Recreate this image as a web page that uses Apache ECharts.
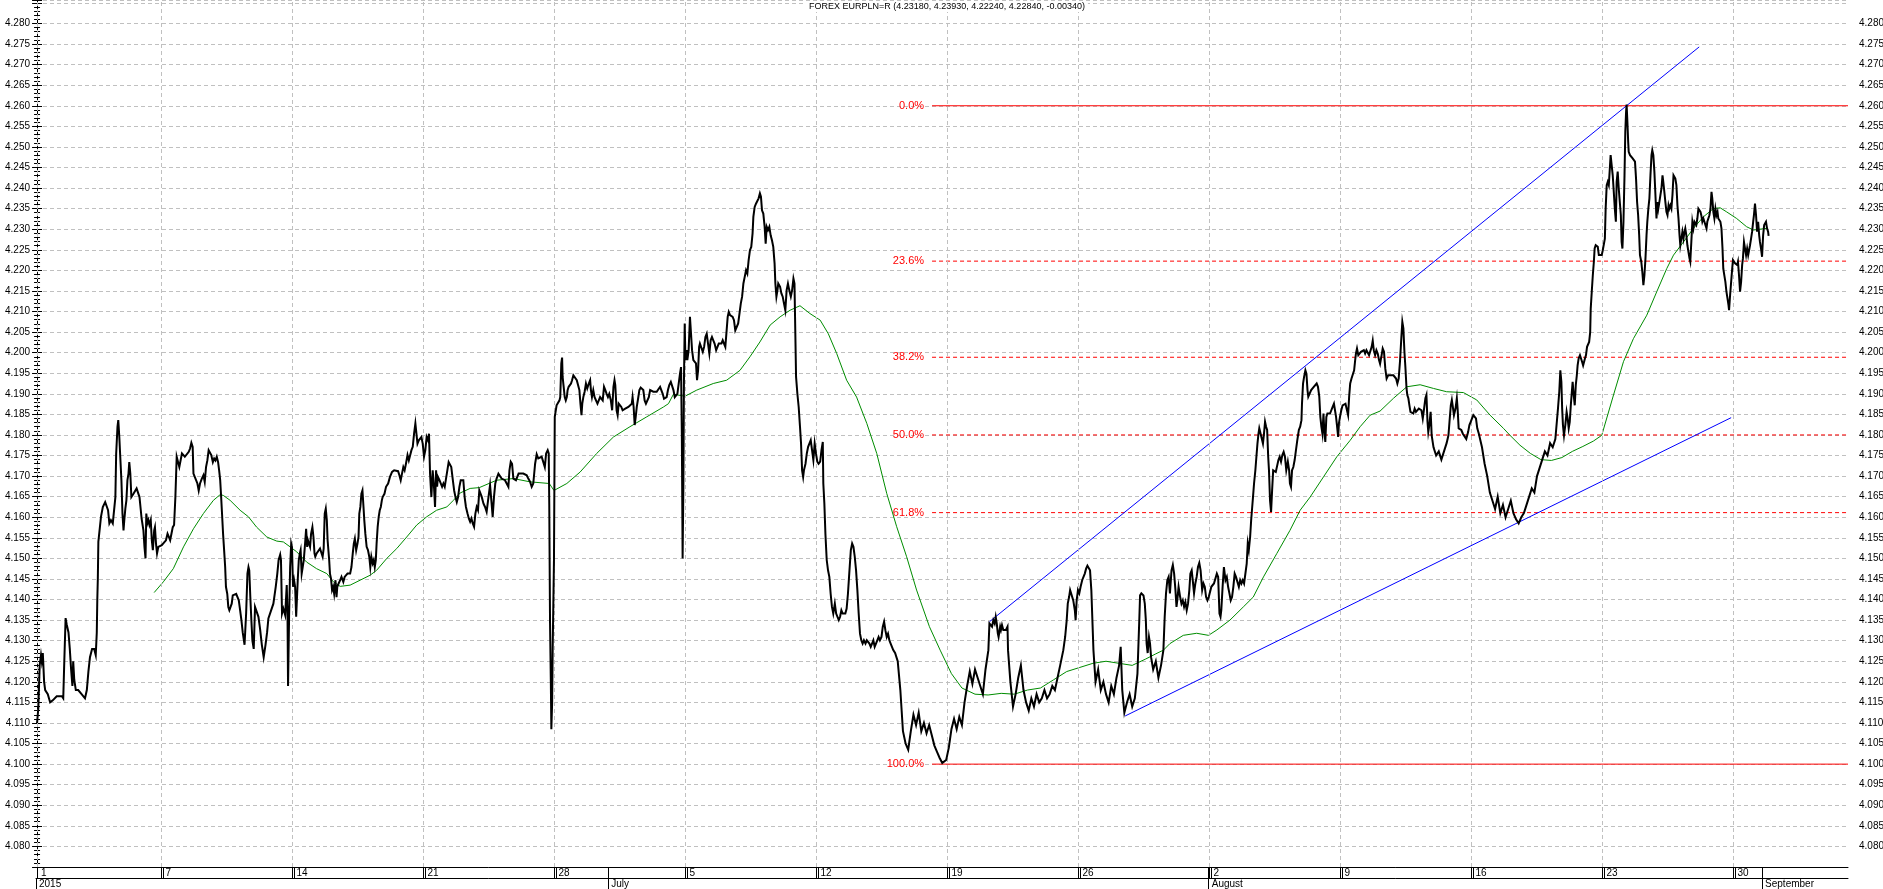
<!DOCTYPE html>
<html>
<head>
<meta charset="utf-8">
<title>EURPLN</title>
<script src="https://cdn.jsdelivr.net/npm/echarts@6/dist/echarts.min.js"></script>
<style>
  html, body { margin: 0; padding: 0; background: #fff; }
  #chart { width: 1883px; height: 889px; }
</style>
</head>
<body>
<div id="chart"></div>
<script>
// x unit: trading days from the 1 June tick (one week = 5 days)
const weekTicks = [0, 4.75, 9.75, 14.75, 19.75, 24.75, 29.75, 34.75, 39.75, 44.75, 49.75, 54.75, 59.75, 64.75];
const weekLabels = ['1', '7', '14', '21', '28', '5', '12', '19', '26', '2', '9', '16', '23', '30'];
const monthTicks = [-0.04, 21.8, 44.72, 65.84];
const monthLabels = ['2015', 'July', 'August', 'September'];

const titleText = 'FOREX EURPLN=R (4.23180, 4.23930, 4.22240, 4.22840, -0.00340)';

// EURPLN close, [day, price]
const price = [
  [0.00,4.1100],[0.05,4.1137],[0.10,4.1240],[0.15,4.1265],[0.18,4.1250],[0.22,4.1270],[0.27,4.1200],[0.31,4.1180],[0.36,4.1180],[0.41,4.1170],[0.50,4.1150],[0.60,4.1155],[0.75,4.1165],[0.85,4.1165],[0.95,4.1165],[1.00,4.1160],[1.04,4.1250],[1.09,4.1355],[1.13,4.1340],[1.20,4.1320],[1.25,4.1280],[1.30,4.1230],[1.35,4.1190],[1.38,4.1250],[1.42,4.1205],[1.48,4.1180],[1.57,4.1180],[1.70,4.1170],[1.83,4.1160],[1.90,4.1180],[1.96,4.1225],[2.02,4.1260],[2.10,4.1280],[2.18,4.1280],[2.24,4.1265],[2.28,4.1320],[2.30,4.1400],
  [2.32,4.1451],[2.34,4.1540],[2.40,4.1544],[2.44,4.1601],[2.51,4.1625],[2.60,4.1637],[2.66,4.1641],[2.71,4.1617],[2.76,4.1585],[2.82,4.1593],[2.89,4.1585],[2.96,4.1581],[2.99,4.1649],[3.02,4.1755],[3.07,4.1820],[3.10,4.1836],[3.14,4.1795],[3.17,4.1755],[3.22,4.1690],[3.26,4.1609],[3.30,4.1568],[3.33,4.1593],[3.37,4.1621],[3.41,4.1641],[3.45,4.1690],[3.49,4.1706],[3.52,4.1734],[3.56,4.1706],[3.60,4.1649],[3.68,4.1657],[3.74,4.1661],[3.80,4.1670],[3.87,4.1674],[3.91,4.1649],[3.96,4.1617],[3.99,4.1597],[4.06,4.1568],[4.10,4.1528],[4.14,4.1500],[4.17,4.1609],[4.21,4.1585],[4.25,4.1593],[4.29,4.1581],[4.34,4.1593],[4.38,4.1544],[4.42,4.1520],[4.47,4.1568],[4.50,4.1576],[4.54,4.1536],[4.58,4.1512],[4.63,4.1528],[4.70,4.1532],[4.76,4.1532],[4.82,4.1536],[4.92,4.1544],[4.98,4.1560],[5.03,4.1552],[5.08,4.1544],[5.13,4.1560],[5.18,4.1576],[5.23,4.1581],[5.28,4.1649],[5.33,4.1747],[5.37,4.1743],[5.43,4.1722],[5.48,4.1726],[5.53,4.1755],[5.59,4.1759],[5.64,4.1747],[5.71,4.1751],[5.79,4.1759],[5.84,4.1767],[5.89,4.1781],[5.94,4.1771],[5.97,4.1706],[6.02,4.1698],[6.07,4.1698],[6.12,4.1682],[6.17,4.1665],[6.22,4.1682],[6.29,4.1694],[6.35,4.1702],[6.40,4.1686],[6.45,4.1722],[6.50,4.1738],[6.55,4.1763],[6.60,4.1767],[6.65,4.1751],[6.71,4.1734],[6.76,4.1743],[6.81,4.1738],[6.86,4.1747],[6.91,4.1734],[6.95,4.1714],[6.99,4.1690],[7.02,4.1657],[7.06,4.1609],[7.10,4.1560],[7.14,4.1520],[7.18,4.1479],[7.21,4.1431],[7.26,4.1414],[7.30,4.1382],[7.34,4.1374],[7.39,4.1374],[7.43,4.1390],[7.47,4.1410],[7.52,4.1414],[7.60,4.1414],[7.65,4.1410],[7.70,4.1398],[7.75,4.1374],[7.80,4.1350],
  [7.85,4.1320],[7.92,4.1290],[7.98,4.1366],[8.03,4.1463],[8.07,4.1479],[8.10,4.1471],[8.14,4.1406],[8.18,4.1350],[8.22,4.1300],[8.27,4.1280],[8.32,4.1382],[8.38,4.1378],[8.45,4.1358],[8.51,4.1330],[8.58,4.1290],[8.65,4.1260],[8.72,4.1290],[8.78,4.1320],[8.83,4.1354],[8.89,4.1354],[9.02,4.1390],[9.11,4.1431],[9.17,4.1463],[9.22,4.1496],[9.28,4.1509],[9.31,4.1496],[9.35,4.1366],[9.40,4.1378],[9.47,4.1362],[9.53,4.1435],[9.56,4.1360],[9.58,4.1190],[9.62,4.1358],[9.66,4.1479],[9.70,4.1536],[9.73,4.1528],[9.77,4.1431],[9.81,4.1447],[9.85,4.1431],[9.89,4.1358],[9.91,4.1354],[9.95,4.1447],[9.99,4.1496],[10.03,4.1512],[10.06,4.1520],[10.10,4.1463],[10.14,4.1479],[10.18,4.1496],[10.23,4.1536],[10.27,4.1572],[10.31,4.1528],[10.34,4.1544],[10.38,4.1536],[10.42,4.1528],[10.46,4.1560],[10.51,4.1576],[10.55,4.1552],[10.59,4.1512],[10.62,4.1504],[10.67,4.1512],[10.74,4.1516],[10.80,4.1524],[10.87,4.1520],[10.90,4.1504],[10.94,4.1524],[10.98,4.1609],[11.02,4.1621],[11.06,4.1593],[11.09,4.1544],[11.15,4.1496],[11.18,4.1463],[11.22,4.1451],[11.26,4.1423],[11.30,4.1431],[11.34,4.1414],[11.39,4.1447],[11.43,4.1406],[11.46,4.1431],[11.51,4.1439],[11.57,4.1447],[11.62,4.1455],[11.65,4.1459],[11.69,4.1443],[11.74,4.1455],[11.79,4.1451],[11.85,4.1463],[11.95,4.1463],[12.00,4.1479],[12.05,4.1512],[12.09,4.1536],[12.13,4.1548],[12.18,4.1520],[12.23,4.1536],[12.27,4.1552],[12.30,4.1609],[12.34,4.1625],[12.38,4.1657],[12.42,4.1665],[12.46,4.1625],[12.49,4.1593],[12.53,4.1560],[12.58,4.1528],[12.63,4.1520],[12.68,4.1504],[12.72,4.1479],[12.76,4.1504],[12.81,4.1488],[12.85,4.1496],[12.89,4.1479],[12.93,4.1496],[12.96,4.1536],[13.00,4.1576],[13.04,4.1601],[13.08,4.1617],[13.12,4.1625],[13.16,4.1641],[13.19,4.1649],[13.26,4.1657],[13.32,4.1674],[13.40,4.1682],[13.47,4.1698],[13.55,4.1710],[13.63,4.1714],[13.70,4.1710],[13.78,4.1712],[13.83,4.1702],[13.88,4.1690],[13.93,4.1706],[13.98,4.1722],[14.03,4.1714],[14.08,4.1730],[14.14,4.1751],[14.19,4.1738],[14.24,4.1734],[14.29,4.1763],[14.34,4.1771],[14.39,4.1803],[14.44,4.1828],[14.48,4.1832],[14.52,4.1779],[14.57,4.1787],[14.62,4.1791],[14.67,4.1795],[14.72,4.1779],[14.77,4.1747],[14.82,4.1763],[14.87,4.1795],[14.92,4.1787],[14.96,4.1803],[15.00,4.1706],[15.05,4.1649],[15.10,4.1714],[15.15,4.1674],[15.19,4.1625],[15.23,4.1714],[15.27,4.1674],[15.30,4.1698],[15.36,4.1690],[15.41,4.1686],[15.46,4.1674],[15.51,4.1682],[15.56,4.1674],[15.61,4.1678],[15.66,4.1714],[15.71,4.1734],[15.76,4.1738],[15.81,4.1722],[15.87,4.1690],[15.92,4.1665],[15.97,4.1649],[16.02,4.1637],[16.07,4.1649],[16.12,4.1674],[16.17,4.1690],[16.22,4.1694],[16.27,4.1690],[16.32,4.1649],[16.37,4.1625],[16.43,4.1609],[16.48,4.1597],[16.53,4.1589],[16.58,4.1597],[16.63,4.1585],[16.68,4.1577],[16.73,4.1609],[16.78,4.1625],[16.83,4.1617],[16.88,4.1665],
  [16.97,4.1650],[17.04,4.1633],[17.10,4.1625],[17.16,4.1613],[17.23,4.1649],[17.29,4.1678],[17.35,4.1633],[17.39,4.1601],[17.44,4.1649],[17.49,4.1682],[17.54,4.1694],[17.61,4.1706],[17.67,4.1702],[17.73,4.1694],[17.86,4.1690],[17.93,4.1686],[17.99,4.1674],[18.03,4.1714],[18.08,4.1735],[18.13,4.1730],[18.18,4.1694],[18.23,4.1698],[18.28,4.1690],[18.33,4.1690],[18.38,4.1706],[18.43,4.1702],[18.56,4.1706],[18.69,4.1702],[18.75,4.1694],[18.82,4.1686],[18.88,4.1674],[18.94,4.1682],[19.01,4.1730],[19.07,4.1753],[19.13,4.1743],[19.26,4.1747],[19.33,4.1751],[19.38,4.1722],[19.43,4.1755],[19.49,4.1763],[19.53,4.1755],[19.55,4.1633],[19.58,4.1342],[19.61,4.1200],[19.63,4.1085],[19.66,4.1150],[19.68,4.1277],[19.73,4.1496],[19.76,4.1844],[19.78,4.1852],[19.83,4.1872],[19.90,4.1868],[19.94,4.1884],[19.97,4.1892],[20.01,4.1974],[20.04,4.1988],[20.06,4.1941],[20.10,4.1917],[20.14,4.1892],[20.18,4.1884],[20.22,4.1892],[20.25,4.1909],[20.29,4.1917],[20.34,4.1917],[20.38,4.1925],[20.42,4.1933],[20.47,4.1945],[20.53,4.1941],[20.60,4.1933],[20.66,4.1933],[20.70,4.1909],[20.74,4.1876],[20.78,4.1848],[20.81,4.1876],[20.85,4.1892],[20.90,4.1905],[20.95,4.1925],[21.00,4.1913],[21.06,4.1925],[21.11,4.1933],[21.14,4.1909],[21.18,4.1892],[21.23,4.1909],[21.28,4.1892],[21.34,4.1892],[21.39,4.1876],[21.44,4.1884],[21.49,4.1892],[21.54,4.1888],[21.59,4.1884],[21.64,4.1917],[21.69,4.1909],[21.74,4.1900],[21.79,4.1892],[21.84,4.1900],[21.90,4.1884],[21.95,4.1860],[22.00,4.1917],[22.04,4.1933],[22.07,4.1921],[22.12,4.1860],[22.16,4.1848],[22.20,4.1876],[22.25,4.1876],[22.30,4.1868],[22.35,4.1860],[22.45,4.1864],[22.51,4.1868],[22.57,4.1868],[22.63,4.1864],[22.70,4.1876],[22.73,4.1892],[22.77,4.1868],[22.81,4.1824],[22.85,4.1844],[22.89,4.1868],[22.94,4.1888],[22.99,4.1909],[23.04,4.1915],[23.09,4.1913],[23.14,4.1909],[23.19,4.1884],[23.24,4.1876],[23.29,4.1876],[23.35,4.1892],[23.40,4.1909],[23.46,4.1909],[23.52,4.1905],[23.59,4.1909],[23.65,4.1905],[23.71,4.1909],[23.78,4.1917],[23.83,4.1921],[23.88,4.1900],[23.93,4.1888],[23.98,4.1888],[24.03,4.1892],[24.08,4.1909],[24.13,4.1921],[24.19,4.1929],[24.24,4.1933],[24.29,4.1909],[24.34,4.1892],[24.39,4.1892],[24.44,4.1900],[24.49,4.1925],[24.54,4.1949],[24.58,4.1965],[24.61,4.1803],[24.63,4.1601],[24.64,4.1500],[24.67,4.1682],[24.69,4.1925],[24.72,4.2071],[24.74,4.2006],[24.77,4.1982],[24.80,4.2006],[24.82,4.1982],[24.87,4.2006],[24.92,4.2087],[24.96,4.2091],[25.00,4.2006],[25.05,4.1982],[25.10,4.1978],[25.15,4.1974],[25.19,4.1933],[25.23,4.1957],[25.27,4.2014],[25.30,4.2022],[25.36,4.2022],[25.41,4.2002],[25.46,4.2014],[25.51,4.2038],[25.56,4.2046],[25.61,4.2022],[25.66,4.1998],[25.71,4.2030],[25.76,4.2038],[25.81,4.2030],[25.86,4.2022],[25.92,4.2006],[25.97,4.2014],[26.02,4.2022],[26.07,4.2026],[26.12,4.2022],[26.17,4.2030],[26.22,4.2026],[26.27,4.2014],[26.32,4.2054],[26.36,4.2087],[26.40,4.2099],[26.45,4.2091],[26.50,4.2095],[26.55,4.2087],[26.60,4.2079],[26.65,4.2054],[26.70,4.2050],[26.76,4.2071],[26.81,4.2095],[26.86,4.2119],[26.91,4.2136],[26.96,4.2168],[27.01,4.2184],[27.06,4.2200],[27.11,4.2192],[27.16,4.2225],[27.21,4.2249],[27.26,4.2257],[27.31,4.2290],[27.34,4.2330],[27.39,4.2354],[27.44,4.2362],[27.49,4.2362],[27.54,4.2375],[27.59,4.2387],[27.63,4.2379],[27.67,4.2346],[27.72,4.2338],[27.77,4.2306],[27.81,4.2265],[27.85,4.2306],[27.90,4.2298],[27.95,4.2306],[28.00,4.2285],[28.05,4.2273],[28.10,4.2257],[28.15,4.2217],[28.18,4.2168],[28.22,4.2136],[28.26,4.2152],[28.29,4.2168],[28.36,4.2160],[28.41,4.2144],[28.46,4.2136],[28.51,4.2119],[28.56,4.2103],[28.61,4.2152],[28.66,4.2168],[28.71,4.2152],[28.77,4.2136],[28.82,4.2152],[28.87,4.2180],[28.91,4.2168],[28.94,4.2054],[28.97,4.1941],[29.02,4.1900],[29.07,4.1868],[29.12,4.1820],[29.16,4.1779],[29.20,4.1714],[29.24,4.1698],[29.27,4.1714],[29.33,4.1730],[29.38,4.1755],[29.43,4.1771],[29.48,4.1775],[29.53,4.1787],[29.58,4.1763],[29.63,4.1739],[29.68,4.1779],[29.73,4.1755],[29.78,4.1735],[29.83,4.1730],[29.89,4.1735],[29.94,4.1763],[29.99,4.1783],[30.01,4.1682],[30.05,4.1633],[30.09,4.1560],[30.14,4.1496],[30.19,4.1471],[30.24,4.1455],[30.29,4.1414],[30.34,4.1382],[30.39,4.1366],[30.45,4.1390],[30.50,4.1366],[30.55,4.1370],[30.60,4.1350],[30.65,4.1358],[30.70,4.1374],[30.75,4.1366],[30.80,4.1370],[30.85,4.1366],[30.90,4.1378],[30.95,4.1414],[31.00,4.1463],[31.06,4.1520],[31.11,4.1536],[31.16,4.1528],[31.21,4.1504],[31.26,4.1471],[31.31,4.1423],[31.36,4.1366],[31.41,4.1317],[31.46,4.1301],[31.51,4.1293],[31.56,4.1301],[31.62,4.1293],[31.67,4.1301],[31.72,4.1297],[31.77,4.1293],[31.82,4.1285],[31.87,4.1293],[31.92,4.1301],[31.97,4.1285],[32.02,4.1293],[32.07,4.1301],[32.12,4.1309],[32.17,4.1301],[32.23,4.1309],[32.28,4.1334],[32.33,4.1346],[32.38,4.1325],[32.43,4.1309],[32.48,4.1317],[32.53,4.1301],[32.58,4.1293],[32.63,4.1285],[32.68,4.1277],
  [32.75,4.1270],[32.85,4.1250],[32.95,4.1180],[33.05,4.1080],[33.15,4.1050],[33.25,4.1035],[33.35,4.1080],[33.45,4.1120],[33.55,4.1095],[33.65,4.1125],[33.75,4.1080],[33.85,4.1100],[33.95,4.1075],[34.05,4.1095],[34.15,4.1070],[34.25,4.1045],[34.35,4.1030],[34.45,4.1015],[34.55,4.1003],[34.62,4.1000],[34.70,4.1010],[34.80,4.1040],[34.90,4.1085],[35.00,4.1110],[35.10,4.1085],[35.20,4.1115],[35.30,4.1095],[35.40,4.1150],[35.50,4.1190],[35.60,4.1225],[35.70,4.1195],[35.80,4.1230],[35.90,4.1210],[36.00,4.1190],[36.10,4.1170],[36.20,4.1230],[36.31,4.1277],
  [36.35,4.1342],[36.40,4.1342],[36.45,4.1334],[36.50,4.1350],[36.55,4.1342],[36.59,4.1358],[36.63,4.1342],[36.67,4.1318],[36.70,4.1309],[36.76,4.1334],[36.79,4.1326],[36.83,4.1338],[36.88,4.1326],[36.93,4.1330],[36.98,4.1326],[37.04,4.1334],[37.06,4.1277],[37.15,4.1200],[37.25,4.1140],[37.35,4.1170],[37.45,4.1210],[37.55,4.1240],[37.65,4.1180],[37.75,4.1150],[37.85,4.1130],[37.95,4.1160],[38.05,4.1140],[38.15,4.1170],[38.25,4.1150],[38.35,4.1160],[38.45,4.1180],[38.55,4.1160],[38.65,4.1170],[38.75,4.1190],[38.85,4.1180],[38.95,4.1210],[39.05,4.1240],[39.17,4.1277],
  [39.24,4.1309],[39.30,4.1350],[39.34,4.1390],[39.39,4.1406],[39.43,4.1423],[39.49,4.1427],[39.55,4.1398],[39.61,4.1374],[39.64,4.1350],[39.68,4.1398],[39.73,4.1423],[39.78,4.1415],[39.83,4.1431],[39.89,4.1447],[39.94,4.1451],[39.99,4.1463],[40.04,4.1475],[40.09,4.1482],[40.14,4.1479],[40.19,4.1471],[40.24,4.1423],[40.28,4.1350],[40.32,4.1277],[40.40,4.1200],[40.50,4.1230],[40.60,4.1180],[40.70,4.1200],[40.80,4.1170],[40.90,4.1150],[41.00,4.1190],[41.10,4.1170],[41.20,4.1210],[41.30,4.1240],[41.36,4.1285],[41.42,4.1180],[41.50,4.1125],[41.60,4.1150],[41.70,4.1170],[41.80,4.1140],[41.90,4.1160],[42.00,4.1220],
  [42.07,4.1350],[42.10,4.1410],[42.15,4.1415],[42.23,4.1410],[42.28,4.1390],[42.32,4.1350],[42.35,4.1293],[42.39,4.1270],[42.44,4.1309],[42.48,4.1293],[42.52,4.1260],[42.60,4.1230],[42.70,4.1250],[42.80,4.1210],[42.90,4.1240],[42.99,4.1277],
  [43.04,4.1358],[43.09,4.1415],[43.14,4.1447],[43.19,4.1455],[43.24,4.1415],[43.30,4.1471],[43.35,4.1484],[43.40,4.1463],[43.45,4.1423],[43.49,4.1382],[43.52,4.1398],[43.57,4.1431],[43.63,4.1406],[43.68,4.1390],[43.73,4.1398],[43.78,4.1382],[43.83,4.1394],[43.88,4.1374],[43.93,4.1390],[43.98,4.1423],[44.02,4.1463],[44.07,4.1471],[44.11,4.1447],[44.16,4.1415],[44.21,4.1439],[44.26,4.1455],[44.31,4.1479],[44.36,4.1489],[44.41,4.1471],[44.47,4.1423],[44.52,4.1439],[44.57,4.1431],[44.62,4.1406],[44.67,4.1398],[44.72,4.1406],[44.77,4.1410],[44.82,4.1431],[44.87,4.1435],[44.92,4.1439],[44.97,4.1443],[45.03,4.1463],[45.08,4.1455],[45.13,4.1366],[45.17,4.1358],[45.20,4.1374],[45.25,4.1431],[45.30,4.1479],[45.36,4.1447],[45.41,4.1455],[45.46,4.1431],[45.51,4.1415],[45.56,4.1398],[45.61,4.1406],[45.66,4.1431],[45.71,4.1463],[45.76,4.1455],[45.81,4.1455],[45.87,4.1431],[45.92,4.1447],[45.97,4.1439],[46.02,4.1447],[46.07,4.1439],[46.12,4.1443],[46.17,4.1487],[46.21,4.1536],[46.25,4.1520],[46.30,4.1552],[46.34,4.1593],[46.37,4.1617],[46.41,4.1649],[46.45,4.1682],[46.50,4.1714],[46.54,4.1747],[46.58,4.1779],[46.62,4.1803],[46.65,4.1816],[46.70,4.1820],[46.76,4.1787],[46.79,4.1779],[46.83,4.1803],[46.87,4.1832],[46.91,4.1820],[46.95,4.1812],[46.99,4.1747],[47.02,4.1714],[47.06,4.1641],[47.10,4.1613],[47.14,4.1666],[47.18,4.1714],[47.23,4.1714],[47.28,4.1710],[47.33,4.1714],[47.38,4.1739],[47.43,4.1747],[47.48,4.1735],[47.53,4.1751],[47.58,4.1759],[47.63,4.1747],[47.68,4.1714],[47.74,4.1735],[47.79,4.1714],[47.82,4.1682],[47.86,4.1674],[47.90,4.1714],[47.95,4.1722],[48.00,4.1739],[48.05,4.1763],[48.10,4.1787],[48.16,4.1812],[48.21,4.1820],[48.26,4.1836],[48.28,4.1876],[48.32,4.1925],[48.36,4.1941],[48.41,4.1957],[48.45,4.1949],[48.49,4.1909],[48.52,4.1893],[48.58,4.1897],[48.63,4.1909],[48.68,4.1913],[48.73,4.1917],[48.78,4.1921],[48.84,4.1925],[48.89,4.1917],[48.94,4.1893],[48.98,4.1844],[49.02,4.1820],[49.06,4.1803],[49.10,4.1852],[49.13,4.1812],[49.17,4.1783],[49.21,4.1844],[49.25,4.1852],[49.30,4.1856],[49.35,4.1852],[49.40,4.1860],[49.45,4.1868],[49.50,4.1876],[49.54,4.1860],[49.58,4.1844],[49.62,4.1820],[49.66,4.1795],[49.69,4.1828],[49.73,4.1844],[49.78,4.1860],[49.83,4.1872],[49.88,4.1872],[49.94,4.1876],[49.99,4.1876],[50.04,4.1848],[50.08,4.1893],[50.12,4.1925],[50.17,4.1937],[50.22,4.1941],[50.27,4.1957],[50.31,4.1982],[50.34,4.1998],[50.38,4.2010],[50.43,4.1994],[50.48,4.1998],[50.53,4.2002],[50.58,4.2002],[50.64,4.2006],[50.69,4.1998],[50.74,4.2006],[50.79,4.2006],[50.84,4.1994],[50.89,4.1990],[50.94,4.2014],[50.98,4.2029],[51.02,4.2006],[51.07,4.1994],[51.12,4.2006],[51.17,4.1998],[51.22,4.1982],[51.26,4.1973],
  [51.32,4.1994],[51.36,4.2010],[51.41,4.2002],[51.46,4.1961],[51.51,4.1937],[51.57,4.1945],[51.62,4.1941],[51.67,4.1945],[51.72,4.1941],[51.77,4.1945],[51.82,4.1941],[51.87,4.1937],[51.92,4.1925],[51.97,4.1937],[52.02,4.1978],[52.07,4.2034],[52.11,4.2075],[52.15,4.2059],[52.19,4.2002],[52.23,4.1961],[52.27,4.1913],[52.30,4.1897],[52.34,4.1889],[52.38,4.1872],[52.42,4.1856],[52.46,4.1856],[52.49,4.1852],[52.53,4.1852],[52.58,4.1864],[52.63,4.1856],[52.68,4.1856],[52.74,4.1864],[52.79,4.1868],[52.84,4.1860],[52.89,4.1840],[52.94,4.1864],[52.99,4.1889],[53.03,4.1897],[53.07,4.1832],[53.10,4.1807],[53.14,4.1824],[53.19,4.1856],[53.23,4.1799],[53.30,4.1770],[53.40,4.1750],[53.50,4.1760],[53.60,4.1740],[53.70,4.1760],[53.80,4.1780],
  [53.87,4.1799],[53.91,4.1832],[53.96,4.1872],[54.00,4.1885],[54.03,4.1872],[54.08,4.1848],[54.14,4.1864],[54.19,4.1889],[54.22,4.1864],[54.26,4.1816],[54.31,4.1816],[54.36,4.1812],[54.42,4.1803],[54.47,4.1799],[54.55,4.1790],[54.62,4.1807],[54.67,4.1824],[54.72,4.1832],[54.77,4.1840],[54.82,4.1848],[54.87,4.1852],[54.92,4.1840],[54.97,4.1816],[55.03,4.1803],[55.08,4.1799],
  [55.15,4.1770],[55.25,4.1730],[55.35,4.1700],[55.45,4.1660],[55.55,4.1640],[55.65,4.1620],[55.75,4.1650],[55.85,4.1610],[55.95,4.1630],[56.05,4.1600],[56.15,4.1620],[56.25,4.1640],[56.35,4.1610],[56.45,4.1595],[56.55,4.1585],[56.65,4.1600],[56.75,4.1610],[56.85,4.1630],[56.95,4.1650],[57.05,4.1670],[57.15,4.1660],[57.25,4.1700],[57.35,4.1720],[57.45,4.1740],[57.55,4.1760],[57.65,4.1750],[57.75,4.1780],[57.85,4.1770],[57.95,4.1790],
  [58.05,4.1864],[58.10,4.1905],[58.14,4.1957],[58.18,4.1929],[58.21,4.1864],[58.24,4.1824],[58.28,4.1799],[58.33,4.1824],[58.38,4.1856],[58.42,4.1840],[58.46,4.1816],[58.50,4.1832],[58.54,4.1872],[58.58,4.1905],[58.61,4.1929],[58.65,4.1897],[58.69,4.1872],[58.73,4.1921],[58.77,4.1945],[58.80,4.1969],[58.84,4.1986],[58.89,4.1994],[58.93,4.1998],[58.97,4.1978],[59.01,4.1969],[59.05,4.1969],[59.08,4.1986],[59.12,4.1994],[59.16,4.2014],[59.20,4.2018],[59.24,4.2026],[59.28,4.2050],[59.30,4.2107],[59.34,4.2148],[59.38,4.2188],[59.42,4.2221],[59.45,4.2253],[59.49,4.2261],[59.53,4.2265],[59.57,4.2257],[59.61,4.2237],[59.64,4.2237],[59.68,4.2233],[59.72,4.2237],[59.76,4.2249],[59.80,4.2253],[59.84,4.2277],[59.87,4.2350],[59.91,4.2407],[59.95,4.2415],[59.99,4.2407],[60.03,4.2448],[60.06,4.2480],[60.10,4.2480],[60.14,4.2431],[60.18,4.2391],[60.22,4.2350],[60.26,4.2318],[60.29,4.2415],[60.33,4.2440],[60.37,4.2399],[60.41,4.2366],[60.45,4.2334],[60.48,4.2269],[60.51,4.2253],[60.55,4.2318],[60.59,4.2431],[60.62,4.2537],[60.65,4.2585],[60.67,4.2603],[60.70,4.2561],[60.73,4.2512],[60.75,4.2488],[60.80,4.2480],[60.85,4.2480],[60.90,4.2472],[60.95,4.2468],[60.99,4.2464],[61.03,4.2423],[61.07,4.2366],[61.11,4.2334],[61.15,4.2285],[61.18,4.2237],[61.23,4.2221],[61.27,4.2196],[61.31,4.2164],[61.35,4.2188],[61.39,4.2229],[61.43,4.2285],[61.46,4.2318],[61.50,4.2350],[61.54,4.2375],[61.58,4.2431],[61.62,4.2480],[61.65,4.2492],[61.69,4.2480],[61.73,4.2440],[61.77,4.2383],[61.81,4.2326],[61.85,4.2366],[61.88,4.2350],[61.92,4.2366],[61.96,4.2383],[62.00,4.2399],[62.04,4.2431],[62.07,4.2415],[62.11,4.2391],[62.15,4.2366],[62.19,4.2342],[62.23,4.2334],[62.27,4.2358],[62.30,4.2350],[62.34,4.2358],[62.38,4.2350],[62.42,4.2383],[62.46,4.2431],[62.49,4.2435],[62.53,4.2423],[62.57,4.2407],[62.61,4.2358],[62.65,4.2326],[62.69,4.2285],[62.72,4.2261],[62.76,4.2277],[62.80,4.2294],[62.84,4.2277],[62.88,4.2294],[62.91,4.2302],[62.95,4.2285],[62.99,4.2261],[63.03,4.2245],[63.07,4.2229],[63.10,4.2221],[63.14,4.2269],[63.18,4.2318],[63.22,4.2302],[63.26,4.2318],[63.30,4.2318],[63.33,4.2310],[63.37,4.2326],[63.41,4.2350],[63.45,4.2346],[63.49,4.2342],[63.52,4.2334],[63.56,4.2318],[63.60,4.2326],[63.64,4.2318],[63.68,4.2310],[63.72,4.2302],[63.75,4.2318],[63.79,4.2318],[63.83,4.2334],[63.87,4.2350],[63.91,4.2391],[63.94,4.2375],[63.98,4.2342],[64.02,4.2326],[64.06,4.2350],[64.10,4.2334],[64.14,4.2342],[64.17,4.2326],[64.21,4.2326],[64.25,4.2318],[64.29,4.2302],[64.33,4.2253],[64.36,4.2204],[64.40,4.2188],[64.44,4.2172],[64.48,4.2148],[64.52,4.2132],[64.56,4.2115],[64.58,4.2103],[64.62,4.2140],[64.66,4.2172],[64.70,4.2204],[64.73,4.2225],[64.77,4.2221],[64.81,4.2217],[64.85,4.2221],[64.89,4.2213],[64.92,4.2221],[64.96,4.2188],[65.00,4.2148],[65.04,4.2172],[65.08,4.2213],[65.11,4.2229],[65.15,4.2269],[65.19,4.2253],[65.23,4.2237],[65.27,4.2253],[65.31,4.2237],[65.34,4.2237],[65.38,4.2261],[65.42,4.2277],[65.46,4.2294],[65.50,4.2318],[65.53,4.2334],[65.57,4.2362],[65.61,4.2334],[65.65,4.2294],[65.69,4.2318],[65.73,4.2285],[65.76,4.2269],[65.80,4.2253],[65.84,4.2233],[65.88,4.2285],[65.92,4.2310],[65.96,4.2314],[65.99,4.2318],[66.03,4.2302],[66.07,4.2294],[66.09,4.2284]
];

// moving average (green)
const movingAvg = [
  [4.47,4.1417],[4.82,4.1443],[5.20,4.1475],[5.59,4.1528],[5.97,4.1572],[6.35,4.1609],[6.73,4.1641],[6.99,4.1655],[7.11,4.1653],[7.37,4.1641],[7.75,4.1617],[8.07,4.1601],[8.38,4.1576],[8.77,4.1552],[9.15,4.1542],[9.40,4.1540],[9.66,4.1528],[9.91,4.1516],[10.29,4.1491],[10.67,4.1475],[11.06,4.1463],[11.31,4.1443],[11.57,4.1432],[11.95,4.1435],[12.33,4.1447],[12.71,4.1459],[12.96,4.1471],[13.35,4.1500],[13.73,4.1524],[14.11,4.1552],[14.49,4.1581],[14.87,4.1601],[15.25,4.1617],[15.64,4.1625],[15.89,4.1641],[16.15,4.1659],[16.53,4.1670],[16.88,4.1672],[17.54,4.1690],[18.18,4.1694],[18.82,4.1686],[19.55,4.1682],[19.73,4.1665],[20.22,4.1682],[20.73,4.1710],[21.36,4.1755],[22.00,4.1795],[22.63,4.1820],[23.27,4.1844],[23.91,4.1868],[24.10,4.1876],[24.29,4.1899],[24.73,4.1894],[25.18,4.1909],[25.81,4.1925],[26.32,4.1933],[26.83,4.1957],[27.21,4.1990],[27.59,4.2026],[27.98,4.2067],[28.36,4.2087],[28.74,4.2103],[29.12,4.2114],[29.50,4.2095],[29.89,4.2079],[30.20,4.2046],[30.52,4.1998],[30.90,4.1933],[31.28,4.1892],[31.67,4.1828],[32.05,4.1755],[32.43,4.1658],[32.81,4.1577],[33.19,4.1504],[33.57,4.1423],[34.06,4.1334],[34.47,4.1277],
  [34.90,4.1220],[35.30,4.1185],[35.80,4.1170],[36.30,4.1168],[36.80,4.1172],[37.30,4.1170],[37.80,4.1180],[38.30,4.1185],[38.80,4.1205],[39.30,4.1225],[39.80,4.1235],[40.30,4.1245],[40.80,4.1250],[41.30,4.1245],[41.80,4.1240],[42.30,4.1255],[42.70,4.1268],[42.99,4.1277],
  [43.24,4.1293],[43.75,4.1313],[44.26,4.1318],[44.71,4.1313],[45.03,4.1326],[45.53,4.1350],[46.04,4.1382],[46.42,4.1406],[46.81,4.1455],[47.32,4.1512],[47.82,4.1568],[48.21,4.1617],[48.59,4.1649],[49.10,4.1698],[49.61,4.1747],[50.12,4.1787],[50.50,4.1820],[50.88,4.1848],[51.26,4.1858],[51.77,4.1889],[52.28,4.1917],[52.79,4.1922],[53.30,4.1913],[53.80,4.1905],[54.44,4.1903],[54.95,4.1885],[55.46,4.1848],[55.97,4.1816],[56.22,4.1799],
  [56.60,4.1775],[57.00,4.1755],[57.40,4.1740],[57.80,4.1738],[58.20,4.1745],[58.60,4.1760],[59.00,4.1772],[59.40,4.1785],[59.72,4.1799],[60.17,4.1897],[60.55,4.1978],[60.93,4.2034],[61.44,4.2091],[61.82,4.2148],[62.20,4.2204],[62.46,4.2237],[62.84,4.2269],[63.22,4.2302],[63.60,4.2330],[63.98,4.2350],[64.24,4.2352],[64.49,4.2342],[64.87,4.2326],[65.25,4.2306],[65.51,4.2298],[65.76,4.2300],[66.02,4.2302]
];

// trend channel (blue)
const channelUpper = [[36.35, 4.1346], [63.44, 4.2743]];
const channelLower = [[41.53, 4.1117], [64.66, 4.1842]];

// fibonacci retracement
const fibHigh = 4.260;
const fibLow = 4.100;
const fibStartDay = 34.16;
const fibRatios = [0, 0.236, 0.382, 0.5, 0.618, 1];
const fibLabels = ['0.0%', '23.6%', '38.2%', '50.0%', '61.8%', '100.0%'];

const xMin = -0.04, xMax = 69.12;
const yMin = 4.075, yMax = 4.2857;

const chart = echarts.init(document.getElementById('chart'));

function fmtY(v) {
  if (v > 4.2801 || v < 4.0799) return '';
  if (Math.abs(v * 200 - Math.round(v * 200)) > 1e-4) return '';
  return v.toFixed(3);
}
function pick(list, labels, v) {
  for (let i = 0; i < list.length; i++) {
    if (Math.abs(list[i] - v) < 1e-6) return labels[i];
  }
  return '';
}

const tickMarks = weekTicks
  .concat(weekTicks.slice(1).map(t => t + 0.08))
  .concat(monthTicks.slice(1))
  .sort((a, b) => a - b);

// one line series per fibonacci level, label sits left of its first point
const fibSeries = fibRatios.map((r, i) => {
  const lvl = fibHigh - r * (fibHigh - fibLow);
  const solid = r === 0 || r === 1;
  return {
    name: 'fib' + fibLabels[i],
    type: 'line',
    z: 2,
    silent: true,
    symbol: 'circle',
    symbolSize: 0,
    showSymbol: true,
    lineStyle: { color: '#ff0000', width: 1, type: solid ? 'solid' : [4, 3] },
    itemStyle: { color: '#ff0000' },
    data: [
      {
        value: [fibStartDay, lvl],
        label: {
          show: true,
          position: 'left',
          distance: 8,
          formatter: fibLabels[i],
          color: '#ff0000',
          fontSize: 11,
          fontFamily: 'Liberation Sans, Arial, sans-serif'
        }
      },
      [xMax, lvl]
    ]
  };
});

const yAxisBase = {
  type: 'value',
  min: yMin,
  max: yMax,
  interval: 0.005,
  axisLine: { show: true, lineStyle: { color: '#000', width: 1 } },
  axisTick: { show: true, length: 5, lineStyle: { color: '#000' } },
  minorTick: { show: true, splitNumber: 5, length: 3, lineStyle: { color: '#000' } },
  minorSplitLine: { show: false }
};

const option = {
  animation: false,
  backgroundColor: '#fff',
  textStyle: { fontFamily: 'Liberation Sans, Arial, sans-serif' },
  title: {
    text: titleText,
    left: 806,
    top: 1,
    padding: [1, 3],
    backgroundColor: '#fff',
    textStyle: { fontSize: 9, fontWeight: 'normal', color: '#000', fontFamily: 'Liberation Sans, Arial, sans-serif' }
  },
  grid: { left: 36, right: 35, top: 0, bottom: 22, outerBoundsMode: 'none' },
  xAxis: [
    {
      type: 'value',
      min: xMin,
      max: xMax,
      position: 'bottom',
      axisLine: { show: true, onZero: false, lineStyle: { color: '#000', width: 1 } },
      axisTick: { show: true, customValues: tickMarks, length: 11, lineStyle: { color: '#000' } },
      axisLabel: {
        customValues: weekTicks,
        formatter: v => pick(weekTicks, weekLabels, v),
        align: 'left',
        padding: [0, 0, 0, 4],
        margin: 1,
        fontSize: 10,
        color: '#000'
      },
      splitLine: { show: false }
    },
    {
      type: 'value',
      min: xMin,
      max: xMax,
      position: 'bottom',
      offset: 11,
      axisLine: { show: true, onZero: false, lineStyle: { color: '#000', width: 1 } },
      axisTick: { show: true, customValues: monthTicks, length: 11, lineStyle: { color: '#000' } },
      axisLabel: {
        customValues: monthTicks,
        formatter: v => pick(monthTicks, monthLabels, v),
        align: 'left',
        padding: [0, 0, 0, 3],
        margin: 1,
        fontSize: 10,
        color: '#000'
      },
      splitLine: { show: false }
    }
  ],
  yAxis: [
    Object.assign({}, yAxisBase, {
      position: 'left',
      axisLabel: { margin: 6, fontSize: 10, color: '#000', formatter: fmtY },
      splitLine: { show: true, lineStyle: { color: '#c0c0c0', type: [4, 3], width: 1 } }
    }),
    Object.assign({}, yAxisBase, {
      position: 'right',
      axisLabel: { margin: 11, fontSize: 10, color: '#000', formatter: fmtY },
      splitLine: { show: false }
    })
  ],
  series: [
    {
      // weekly vertical grid
      type: 'line',
      data: [],
      z: 1,
      silent: true,
      markLine: {
        silent: true,
        symbol: ['none', 'none'],
        label: { show: false },
        lineStyle: { color: '#c0c0c0', type: [4, 3], width: 1 },
        data: weekTicks.map(t => ({ xAxis: t }))
      }
    }
  ].concat(fibSeries, [
    {
      name: 'upper',
      type: 'line',
      data: channelUpper,
      showSymbol: false,
      z: 3,
      lineStyle: { color: '#0000ff', width: 1 }
    },
    {
      name: 'lower',
      type: 'line',
      data: channelLower,
      showSymbol: false,
      z: 3,
      lineStyle: { color: '#0000ff', width: 1 }
    },
    {
      name: 'ma',
      type: 'line',
      data: movingAvg,
      showSymbol: false,
      z: 4,
      lineStyle: { color: '#008c00', width: 1 }
    },
    {
      name: 'EURPLN',
      type: 'line',
      data: price,
      showSymbol: false,
      sampling: null,
      z: 5,
      lineStyle: { color: '#000', width: 2, join: 'miter' }
    }
  ])
};

chart.setOption(option);
</script>
</body>
</html>
